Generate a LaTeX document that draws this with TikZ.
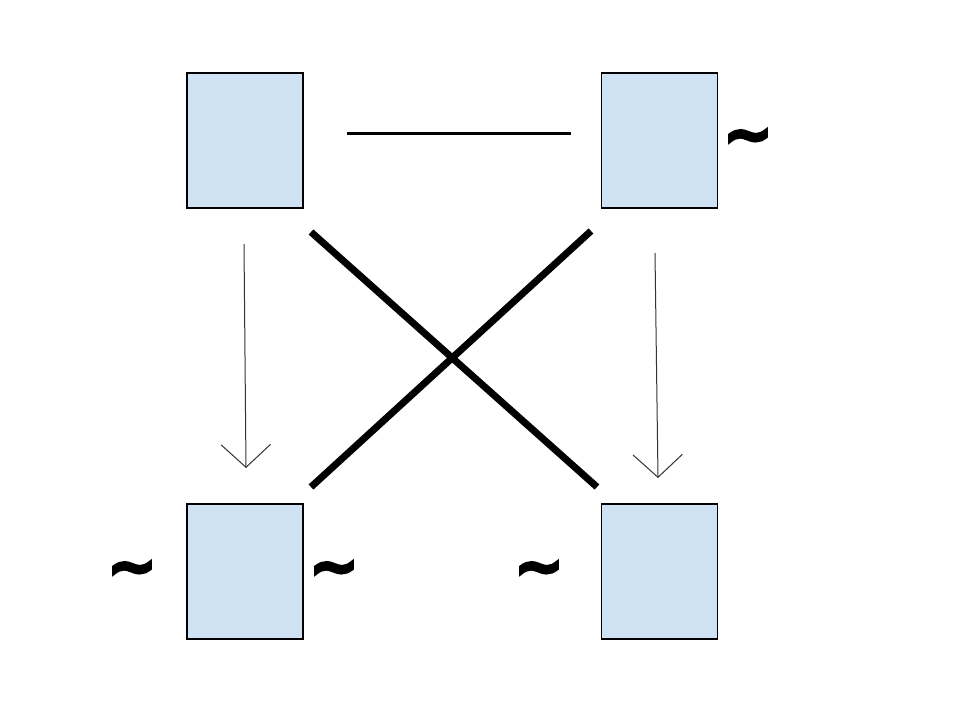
\documentclass[tikz,border=0pt]{standalone}
\usepackage{fontspec}
\setmainfont{Liberation Sans}
\newfontfamily\tildefont[FakeBold=5]{DejaVu Sans Bold}
\usetikzlibrary{arrows.meta}
\definecolor{boxfill}{HTML}{CFE2F3}
\tikzset{
  box/.style={draw=black, line width=0.9pt, fill=boxfill, minimum width=87pt, minimum height=101.25pt, inner sep=0pt},
  tild/.style={font=\tildefont\fontsize{44}{44}\selectfont, inner sep=0pt, anchor=center},
  thinline/.style={line width=2.25pt},
  thickline/.style={line width=5.25pt},
  downarrow/.style={line width=0.75pt, draw=black!80, -{Straight Barb[length=17pt,width=37pt,line width=0.75pt]}}
}
\begin{document}
\begin{tikzpicture}[x=0.75pt,y=-0.75pt]
\useasboundingbox (0,0) rectangle (960,720);
\fill[white] (0,0) rectangle (960,720);
\node[box] (tl) at (245,140.5) {};
\node[box] (tr) at (659.5,140.5) {};
\node[box] (bl) at (245,571.5) {};
\node[box] (br) at (659.5,571.5) {};
\coordinate (h1) at (347,134);
\coordinate (h2) at (571,134);
\coordinate (x1a) at (311,232);
\coordinate (x1b) at (597,487);
\coordinate (x2a) at (591,231);
\coordinate (x2b) at (311,487);
\coordinate (a1a) at (244,244);
\coordinate (a1b) at (246,468);
\coordinate (a2a) at (655,253);
\coordinate (a2b) at (658,478);
\draw[thinline] (h1) -- (h2);
\draw[thickline] (x1a) -- (x1b);
\draw[thickline] (x2a) -- (x2b);
\draw[downarrow] (a1a) -- (a1b);
\draw[downarrow] (a2a) -- (a2b);
\node[tild] (t1) at (748,142) {\char`\~};
\node[tild] (t2) at (132,574) {\char`\~};
\node[tild] (t3) at (334,574) {\char`\~};
\node[tild] (t4) at (539,574) {\char`\~};
\end{tikzpicture}
\end{document}
